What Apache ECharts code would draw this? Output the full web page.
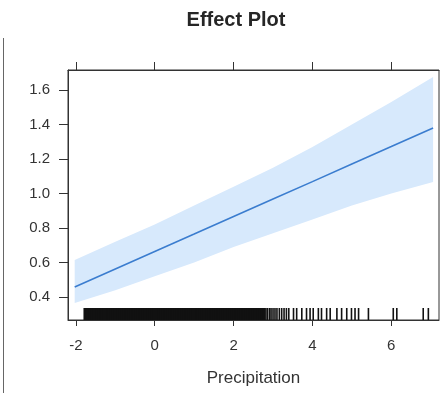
<!DOCTYPE html>
<html>
<head>
<meta charset="utf-8">
<script src="https://cdn.jsdelivr.net/npm/echarts@6/dist/echarts.min.js"></script>
<style>
  html, body { margin: 0; padding: 0; background: #fff; }
  #chart { width: 441px; height: 393px; }
</style>
</head>
<body>
<div id="chart"></div>
<script>
// Fitted effect of precipitation with its confidence band
const xFit  = [-2.03, -1, 0, 1, 2, 3, 4, 5, 6, 7.06];
const fit   = [0.458, 0.562, 0.664, 0.765, 0.867, 0.968, 1.069, 1.171, 1.272, 1.38];
const lower = [0.365, 0.44, 0.52, 0.60, 0.69, 0.77, 0.85, 0.93, 1.00, 1.067];
const upper = [0.615, 0.72, 0.82, 0.93, 1.04, 1.15, 1.27, 1.40, 1.53, 1.675];

// Observed precipitation values shown as a rug along the bottom
const rugValues = [
  -1.77,-1.73,-1.68,-1.64,-1.60,-1.55,-1.51,-1.46,-1.42,-1.37,-1.33,-1.28,-1.24,-1.19,-1.15,-1.10,
  -1.06,-1.01,-0.97,-0.92,-0.88,-0.83,-0.79,-0.74,-0.70,-0.65,-0.61,-0.56,-0.52,-0.47,-0.43,-0.38,
  -0.34,-0.29,-0.25,-0.20,-0.16,-0.11,-0.07,-0.02,0.02,0.07,0.11,0.16,0.20,0.25,0.29,0.34,
  0.38,0.43,0.47,0.52,0.56,0.61,0.65,0.70,0.74,0.79,0.83,0.88,0.92,0.97,1.01,1.06,
  1.10,1.15,1.19,1.24,1.28,1.33,1.37,1.42,1.46,1.51,1.55,1.60,1.64,1.69,1.73,1.78,
  1.82,1.87,1.91,1.96,2.00,2.05,2.09,2.14,2.18,2.23,2.27,2.32,2.36,2.41,2.45,2.50,
  2.54,2.59,2.63,2.68,2.72,2.77,2.82,2.86,2.91,2.95,3.00,3.05,3.10,3.16,3.22,3.28,3.34,
  3.40,3.52,3.60,3.73,3.85,3.94,4.02,4.15,4.23,4.36,4.45,4.62,4.74,4.87,4.99,5.08,5.17,
  5.42,6.05,6.14,6.81,6.94
];

const xTicks = [-2, 0, 2, 4, 6];
const yTicks = [0.4, 0.6, 0.8, 1.0, 1.2, 1.4, 1.6];

const X_MIN = -2.2, X_MAX = 7.21, Y_MIN = 0.267, Y_MAX = 1.716;
const axisColor = '#333';
const font = 'Liberation Sans, Arial, sans-serif';

const chart = echarts.init(document.getElementById('chart'), null, { renderer: 'canvas' });

const bandData = xFit.map((x, i) => [x, lower[i], upper[i]]);

chart.setOption({
  animation: false,
  title: {
    text: 'Effect Plot',
    left: 231, top: 5, textAlign: 'center',
    textStyle: { fontFamily: font, fontSize: 20, fontWeight: 'bold', color: '#262626' }
  },
  grid: {
    left: 68, top: 70, right: 2, bottom: 73,
    show: true, borderColor: axisColor, borderWidth: 1, backgroundColor: 'transparent'
  },
  xAxis: [{
    type: 'value', min: X_MIN, max: X_MAX, position: 'bottom',
    name: 'Precipitation', nameLocation: 'middle', nameGap: 50,
    nameTextStyle: { fontFamily: font, fontSize: 17, color: '#333' },
    axisLine: { show: true, onZero: false, lineStyle: { color: axisColor } },
    axisTick: { show: true, length: 6, customValues: xTicks, lineStyle: { color: axisColor } },
    axisLabel: { customValues: xTicks, margin: 18, fontFamily: font, fontSize: 15, color: '#333',
                 showMinLabel: true, showMaxLabel: true },
    splitLine: { show: false }
  }, {
    type: 'value', min: X_MIN, max: X_MAX, position: 'top',
    axisLine: { show: true, onZero: false, lineStyle: { color: axisColor } },
    axisTick: { show: true, length: 8, customValues: xTicks, lineStyle: { color: axisColor } },
    axisLabel: { show: false },
    splitLine: { show: false }
  }],
  yAxis: {
    type: 'value', min: Y_MIN, max: Y_MAX,
    axisLine: { show: true, onZero: false, lineStyle: { color: axisColor } },
    axisTick: { show: true, length: 9, customValues: yTicks, lineStyle: { color: axisColor } },
    axisLabel: { customValues: yTicks, margin: 18, fontFamily: font, fontSize: 15, color: '#333',
                 formatter: v => v.toFixed(1) },
    splitLine: { show: false }
  },
  series: [{
    // confidence band as one filled polygon
    type: 'custom', clip: true, silent: true,
    data: [0],
    renderItem: (params, api) => {
      const pts = [];
      bandData.forEach(d => pts.push(api.coord([d[0], d[2]])));
      for (let i = bandData.length - 1; i >= 0; i--) pts.push(api.coord([bandData[i][0], bandData[i][1]]));
      return { type: 'polygon', shape: { points: pts }, style: { fill: '#d7e9fc', stroke: null } };
    }
  }, {
    type: 'line', silent: true, symbol: 'none',
    data: xFit.map((x, i) => [x, fit[i]]),
    lineStyle: { color: '#3b7dcf', width: 1.6 }
  }, {
    // rug marks: thicker strokes where observations are packed tightly
    type: 'custom', clip: true, silent: true,
    data: rugValues.map(v => [v]),
    renderItem: (params, api) => {
      const v = api.value(0);
      const p = api.coord([v, Y_MIN]);
      return {
        type: 'line',
        shape: { x1: p[0], y1: p[1], x2: p[0], y2: p[1] - 12 },
        style: { stroke: '#111', lineWidth: v < 2.8 ? 3 : 1.6 }
      };
    }
  }],
  graphic: [{
    type: 'line', shape: { x1: 3.5, y1: 38, x2: 3.5, y2: 393 },
    style: { stroke: '#666', lineWidth: 1 }
  }]
});
</script>
</body>
</html>
